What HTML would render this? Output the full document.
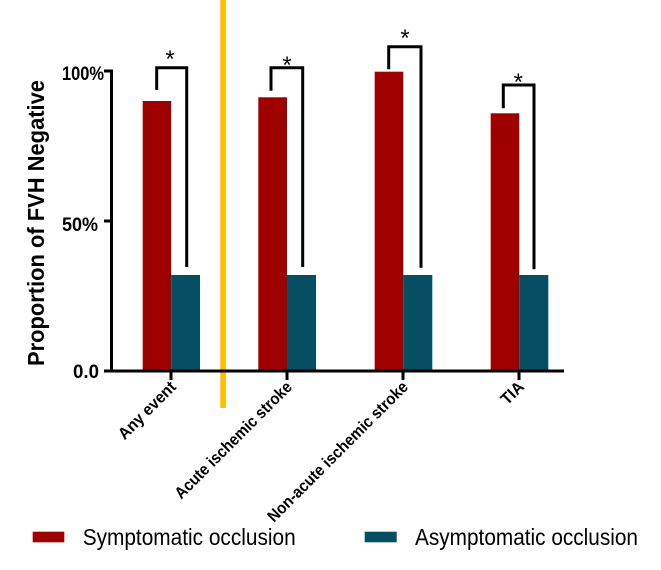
<!DOCTYPE html>
<html>
<head>
<meta charset="utf-8">
<style>
  html, body { margin: 0; padding: 0; background: #ffffff; }
  svg { display: block; }
  text { font-family: "Liberation Sans", Arial, sans-serif; fill: #000; }
</style>
</head>
<body>
<svg width="661" height="570" viewBox="0 0 661 570" xmlns="http://www.w3.org/2000/svg">
  <rect x="0" y="0" width="661" height="570" fill="#ffffff"/>

  <!-- Yellow divider -->
  <rect x="220.3" y="0" width="5.6" height="408" fill="#FDBD00"/>

  <!-- Bars: Any event -->
  <rect x="142.7" y="101" width="28.5" height="270" fill="#9E0000"/>
  <rect x="171.2" y="275" width="28.8" height="96" fill="#064F62"/>
  <!-- Acute ischemic stroke -->
  <rect x="258.3" y="97.3" width="28.7" height="273.7" fill="#9E0000"/>
  <rect x="287" y="275" width="29" height="96" fill="#064F62"/>
  <!-- Non-acute ischemic stroke -->
  <rect x="374.7" y="71.7" width="28.6" height="299.3" fill="#9E0000"/>
  <rect x="403.3" y="275" width="29" height="96" fill="#064F62"/>
  <!-- TIA -->
  <rect x="490.7" y="113.3" width="28.6" height="257.7" fill="#9E0000"/>
  <rect x="519.3" y="275" width="29" height="96" fill="#064F62"/>

  <!-- Axes -->
  <g stroke="#000" stroke-width="3" fill="none">
    <line x1="111.5" y1="69.5" x2="111.5" y2="372.5"/>
    <line x1="110" y1="371" x2="564" y2="371"/>
    <line x1="104" y1="71" x2="111.5" y2="71"/>
    <line x1="104" y1="221" x2="111.5" y2="221"/>
    <line x1="104" y1="371" x2="111.5" y2="371"/>
    <line x1="171" y1="371" x2="171" y2="380"/>
    <line x1="287" y1="371" x2="287" y2="380"/>
    <line x1="403" y1="371" x2="403" y2="380"/>
    <line x1="519" y1="371" x2="519" y2="380"/>
  </g>

  <!-- Significance brackets -->
  <g stroke="#000" stroke-width="3" fill="none" stroke-linejoin="miter">
    <polyline points="156.7,90 156.7,67.7 186.7,67.7 186.7,267"/>
    <polyline points="271,90.7 271,67.7 302.7,67.7 302.7,267"/>
    <polyline points="388.7,69.3 388.7,46.7 421,46.7 421,267.7"/>
    <polyline points="503.3,108.3 503.3,85 534,85 534,269.3"/>
  </g>
  <g font-size="24" text-anchor="middle">
    <text x="170" y="67">*</text>
    <text x="287" y="73">*</text>
    <text x="405" y="46">*</text>
    <text x="518.3" y="90">*</text>
  </g>

  <!-- Y tick labels -->
  <g font-size="19" font-weight="bold" text-anchor="end">
    <text x="104" y="80" textLength="42" lengthAdjust="spacingAndGlyphs">100%</text>
    <text x="98" y="231" textLength="36" lengthAdjust="spacingAndGlyphs">50%</text>
    <text x="99" y="378" textLength="26" lengthAdjust="spacingAndGlyphs">0.0</text>
  </g>

  <!-- Y axis title -->
  <text transform="translate(44,223) rotate(-90)" text-anchor="middle" font-size="23.5" font-weight="bold" textLength="286" lengthAdjust="spacingAndGlyphs">Proportion of FVH Negative</text>

  <!-- X tick labels -->
  <g font-size="16.5" font-weight="bold" text-anchor="end">
    <text transform="translate(177,388) rotate(-45)" textLength="74" lengthAdjust="spacingAndGlyphs">Any event</text>
    <text transform="translate(293,388) rotate(-45)" textLength="158" lengthAdjust="spacingAndGlyphs">Acute ischemic stroke</text>
    <text transform="translate(409,388) rotate(-45)" textLength="191" lengthAdjust="spacingAndGlyphs">Non-acute ischemic stroke</text>
    <text transform="translate(525,388) rotate(-45)" textLength="25" lengthAdjust="spacingAndGlyphs">TIA</text>
  </g>

  <!-- Legend -->
  <rect x="32.7" y="531.7" width="31.6" height="10.6" fill="#9E0000"/>
  <text x="82.7" y="545" font-size="23" textLength="213" lengthAdjust="spacingAndGlyphs">Symptomatic occlusion</text>
  <rect x="364.7" y="531.7" width="32" height="10.6" fill="#064F62"/>
  <text x="415" y="545" font-size="23" textLength="223" lengthAdjust="spacingAndGlyphs">Asymptomatic occlusion</text>
</svg>
</body>
</html>
